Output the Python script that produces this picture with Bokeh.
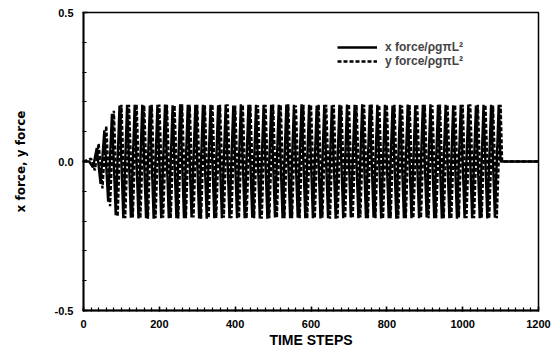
from bokeh.plotting import figure
from bokeh.models import FixedTicker, Legend, LegendItem, Range1d
from bokeh.embed import file_html
from bokeh.resources import INLINE

# ---- data (extrema of the oscillations) ----
x_ticks = [0, 200, 400, 600, 800, 1000, 1200]
y_ticks = [-0.5, 0.0, 0.5]

# y force extrema, time steps 20, 30, ..., 1100
y_force_ext = [
    0.01, -0.03, 0.06, -0.09, 0.12, -0.15, 0.17, -0.185, 0.19, -0.19,
    0.19, -0.188, 0.192, -0.19, 0.188, -0.192, 0.19, -0.19, 0.191, -0.189,
    0.19, -0.19, 0.188, -0.191, 0.192, -0.19, 0.19, -0.188, 0.19, -0.192,
    0.189, -0.19, 0.191, -0.19, 0.19, -0.189, 0.192, -0.19, 0.188, -0.19,
    0.19, -0.191, 0.19, -0.19, 0.189, -0.192, 0.19, -0.19, 0.191, -0.188,
    0.19, -0.19, 0.192, -0.19, 0.188, -0.19, 0.19, -0.191, 0.19, -0.19,
    0.191, -0.189, 0.19, -0.192, 0.19, -0.19, 0.188, -0.19, 0.192, -0.19,
    0.19, -0.188, 0.19, -0.19, 0.191, -0.19, 0.189, -0.192, 0.19, -0.19,
    0.19, -0.191, 0.188, -0.19, 0.19, -0.19, 0.192, -0.189, 0.19, -0.19,
    0.189, -0.19, 0.191, -0.19, 0.19, -0.192, 0.19, -0.188, 0.19, -0.19,
    0.192, -0.19, 0.19, -0.189, 0.19, -0.191, 0.188, -0.19, 0.19,
]
# x force extrema, time steps 25, 35, ..., 1095
x_force_ext = [
    -0.02, 0.045, -0.075, 0.105, -0.135, 0.16, -0.18, 0.188, -0.19, 0.19,
    -0.189, 0.19, -0.191, 0.19, -0.19, 0.188, -0.192, 0.19, -0.19, 0.191,
    -0.19, 0.189, -0.19, 0.192, -0.19, 0.19, -0.188, 0.19, -0.191, 0.19,
    -0.192, 0.19, -0.19, 0.189, -0.19, 0.191, -0.19, 0.188, -0.19, 0.192,
    -0.19, 0.19, -0.189, 0.19, -0.191, 0.19, -0.192, 0.19, -0.188, 0.19,
    -0.19, 0.191, -0.19, 0.19, -0.189, 0.192, -0.19, 0.19, -0.19, 0.188,
    -0.191, 0.19, -0.19, 0.189, -0.192, 0.19, -0.19, 0.191, -0.188, 0.19,
    -0.19, 0.192, -0.19, 0.19, -0.189, 0.19, -0.191, 0.19, -0.19, 0.188,
    -0.192, 0.19, -0.19, 0.191, -0.19, 0.189, -0.19, 0.19, -0.188, 0.192,
    -0.19, 0.19, -0.191, 0.19, -0.19, 0.189, -0.192, 0.19, -0.19, 0.191,
    -0.19, 0.188, -0.19, 0.19, -0.191, 0.19, -0.189, 0.19,
]

t_y = [0] + list(range(20, 1101, 10)) + [1104, 1200]
v_y = [0.0] + y_force_ext + [0.0, 0.0]
t_x = [0, 15] + list(range(25, 1096, 10)) + [1100, 1200]
v_x = [0.0, 0.0] + x_force_ext + [0.0, 0.0]

FONT = "Liberation Sans"

p = figure(width=558, height=350, output_backend="svg", toolbar_location=None,
           x_range=Range1d(0, 1200), y_range=Range1d(-0.5, 0.5),
           min_border_left=83, min_border_right=20, min_border_top=12, min_border_bottom=39)
p.xgrid.visible = False
p.ygrid.visible = False
p.outline_line_color = "black"
p.outline_line_width = 1.5
p.background_fill_color = "white"
p.border_fill_color = "white"

r_x = p.line(t_x, v_x, line_color="black", line_width=2.4)
r_y = p.line(t_y, v_y, line_color="black", line_width=2.4, line_dash="4 2")

for ax in (p.xaxis[0], p.yaxis[0]):
    ax.axis_line_width = 1.8
    ax.major_tick_in = 4
    ax.major_tick_out = 1
    ax.minor_tick_in = 3
    ax.minor_tick_out = 1
    ax.major_tick_line_width = 1.5
    ax.minor_tick_line_width = 1.2
    ax.major_label_text_font = FONT
    ax.major_label_text_font_style = "bold"
    ax.major_label_text_font_size = "11px"
    ax.major_label_text_color = "black"
    ax.axis_label_text_font_style = "bold"
    ax.axis_label_text_color = "black"

p.xaxis[0].ticker = FixedTicker(ticks=x_ticks, minor_ticks=list(range(0, 1201, 20)))
p.yaxis[0].ticker = FixedTicker(ticks=y_ticks, minor_ticks=[i / 10 for i in range(-5, 6)])
p.xaxis[0].axis_label = "TIME STEPS"
p.xaxis[0].axis_label_text_font = FONT
p.xaxis[0].axis_label_text_font_size = "14px"
p.xaxis[0].axis_label_standoff = 1
p.xaxis[0].major_label_standoff = 8
p.yaxis[0].axis_label = "x force, y force"
p.yaxis[0].axis_label_text_font = "DejaVu Sans"
p.yaxis[0].axis_label_text_font_size = "12px"
p.yaxis[0].axis_label_standoff = 24
p.yaxis[0].major_label_standoff = 9
p.yaxis[0].major_label_overrides = {0.0: "0.0", 0.5: "0.5", -0.5: "-0.5"}

legend = Legend(items=[LegendItem(label="x force/ρgπL²", renderers=[r_x]),
                       LegendItem(label="y force/ρgπL²", renderers=[r_y])],
                location=(254, 242))
legend.background_fill_alpha = 0
legend.border_line_alpha = 0
legend.padding = 0
legend.spacing = 0
legend.margin = 0
legend.glyph_width = 40
legend.glyph_height = 10
legend.label_height = 10
legend.label_standoff = 8
legend.label_text_font = FONT
legend.label_text_font_style = "bold"
legend.label_text_font_size = "12px"
legend.label_text_line_height = 1.0
p.add_layout(legend, "center")

open("out.html", "w").write(file_html(p, INLINE))
